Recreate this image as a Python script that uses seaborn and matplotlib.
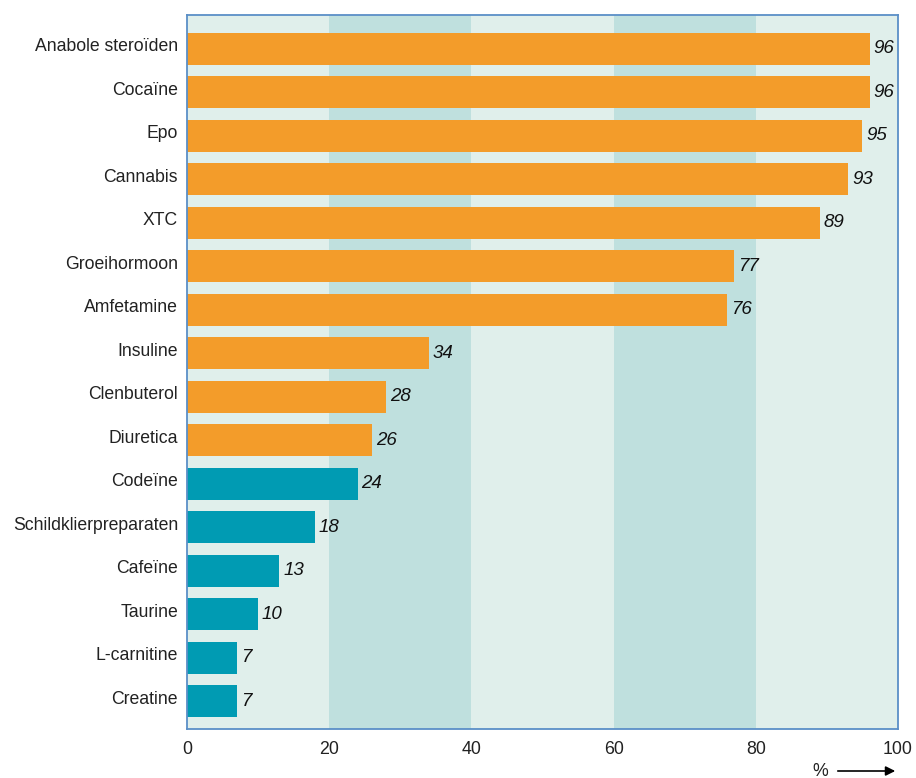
import pandas as pd
import seaborn as sns
import matplotlib.pyplot as plt
import matplotlib.transforms as mtransforms

# Data
substances = ["Anabole steroïden", "Cocaïne", "Epo", "Cannabis", "XTC", "Groeihormoon",
              "Amfetamine", "Insuline", "Clenbuterol", "Diuretica", "Codeïne",
              "Schildklierpreparaten", "Cafeïne", "Taurine", "L-carnitine", "Creatine"]
percentages = [96, 96, 95, 93, 89, 77, 76, 34, 28, 26, 24, 18, 13, 10, 7, 7]
groups = ["doping"] * 10 + ["overig"] * 6
x_ticks = [0, 20, 40, 60, 80, 100]

ORANGE = "#f39c2a"
TEAL = "#009bb3"
BAND_LIGHT = "#e0efeb"
BAND_DARK = "#bfe0de"
FRAME = "#5b8fc7"

df = pd.DataFrame({"stof": substances, "pct": percentages, "groep": groups})

sns.set_style("white")
plt.rcParams['font.family'] = ['Liberation Sans', 'DejaVu Sans']

fig = plt.figure(figsize=(9.16, 7.78), dpi=100)
ax = fig.add_axes([187 / 916, 49 / 778, 711 / 916, 714 / 778])

# background bands
for i in range(len(x_ticks) - 1):
    ax.axvspan(x_ticks[i], x_ticks[i + 1], color=BAND_DARK if i % 2 else BAND_LIGHT,
               zorder=0, lw=0)

sns.barplot(data=df, x="pct", y="stof", hue="groep", palette={"doping": ORANGE, "overig": TEAL},
            dodge=False, width=0.736, legend=False, ax=ax, zorder=2, saturation=1,
            linewidth=0, edgecolor="none")

for i, v in enumerate(percentages):
    ax.text(v + 0.55, i, str(v), va="center", ha="left", fontsize=13.5, style="italic",
            color="#111111", zorder=3)

ax.set_xlim(0, 100)
ax.set_ylim(len(substances) - 1 + 0.64, -0.78)
ax.set_xticks(x_ticks)
ax.tick_params(axis="x", length=0, labelsize=12.8, pad=9, colors="#222222")
ax.tick_params(axis="y", length=0, labelsize=12.7, pad=6.5, colors="#222222")
# category labels sit a little above the bar centre
shift = mtransforms.ScaledTranslation(0, 3 / 72, fig.dpi_scale_trans)
for lbl in ax.get_yticklabels():
    lbl.set_transform(lbl.get_transform() + shift)
ax.set_xlabel("")
ax.set_ylabel("")
for s in ax.spines.values():
    s.set_visible(True)
    s.set_color(FRAME)
    s.set_linewidth(1.3)

# "%" with arrow
fig.text(820 / 916, 1 - 771 / 778, "%", ha="center", va="center", fontsize=12.8, color="#222222")
ax.annotate("", xy=(898 / 916, 1 - 771 / 778), xytext=(835 / 916, 1 - 771 / 778),
            xycoords="figure fraction", textcoords="figure fraction",
            arrowprops=dict(arrowstyle="-|>", color="black", lw=1.2, mutation_scale=14))

plt.savefig("out.png", dpi=100)
plt.close()
